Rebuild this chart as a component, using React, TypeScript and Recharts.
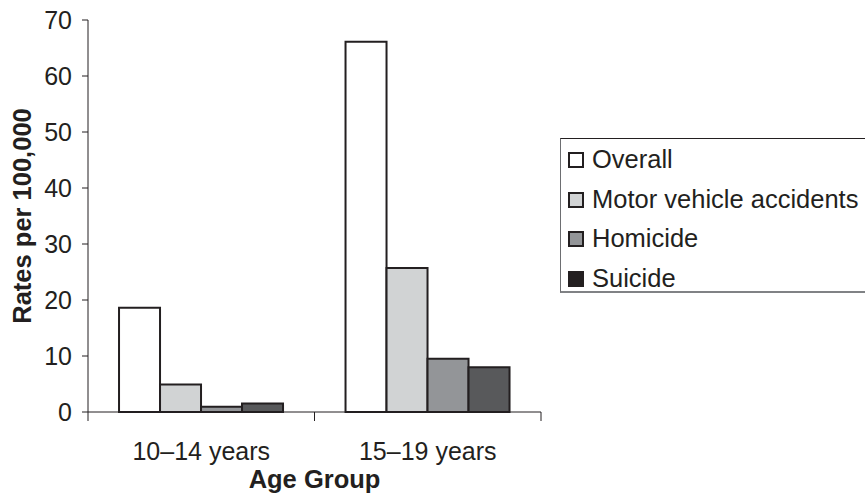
import { BarChart, Bar, XAxis, YAxis } from 'recharts';

const ageGroups = ['10–14 years', '15–19 years'];
const overall = [18.6, 66.1];
const motorVehicle = [4.9, 25.7];
const homicide = [0.95, 9.5];
const suicide = [1.5, 8.0];
const yTicks = [0, 10, 20, 30, 40, 50, 60, 70];

const series = [
  { key: 'overall', name: 'Overall', fill: '#ffffff', swatch: '#ffffff' },
  { key: 'motor', name: 'Motor vehicle accidents', fill: '#d1d3d4', swatch: '#d1d3d4' },
  { key: 'homicide', name: 'Homicide', fill: '#939598', swatch: '#939598' },
  { key: 'suicide', name: 'Suicide', fill: '#58595b', swatch: '#231f20' },
];

const data = ageGroups.map((group, i) => ({
  group,
  overall: overall[i],
  motor: motorVehicle[i],
  homicide: homicide[i],
  suicide: suicide[i],
}));

const ink = '#231f20';
const font = '"Liberation Sans", Arial, Helvetica, sans-serif';
const X_TICK_SIZE = 6;
const X_TICK_MARGIN = 24;

// category label plus tick marks on the band edges (Excel style)
function BandTick(props: any) {
  const { x, y, payload } = props;
  const half = payload.offset ?? 0;
  const axisY = y - X_TICK_SIZE - X_TICK_MARGIN;
  return (
    <g>
      <line x1={x - half} x2={x - half} y1={axisY} y2={axisY + 9} stroke={ink} strokeWidth={1} />
      <line x1={x + half} x2={x + half} y1={axisY} y2={axisY + 9} stroke={ink} strokeWidth={1} />
      <text x={x} y={y} dy="0.71em" textAnchor="middle" fill={ink} fontSize={25} fontFamily={font}>
        {payload.value}
      </text>
    </g>
  );
}

export default function App() {
  return (
    <div style={{ position: 'relative', width: 865, height: 494, overflow: 'hidden', background: '#fff', fontFamily: font }}>
      <style>{'body{margin:0}'}</style>
      <BarChart
        width={865}
        height={494}
        data={data}
        margin={{ top: 20, right: 324, left: 0, bottom: 0 }}
        barCategoryGap="13.7%"
        barGap={0}
      >
        <XAxis
          dataKey="group"
          tickLine={false}
          tickSize={X_TICK_SIZE}
          tickMargin={X_TICK_MARGIN}
          axisLine={{ stroke: ink, strokeWidth: 1 }}
          height={82}
          tick={BandTick}
          label={{ value: 'Age Group', position: 'insideBottom', offset: 6, fill: ink, fontSize: 25.5, fontWeight: 'bold', fontFamily: font }}
        />
        <YAxis
          domain={[0, 70]}
          ticks={yTicks}
          width={88}
          tickSize={6}
          tickMargin={10}
          axisLine={{ stroke: ink, strokeWidth: 1 }}
          tickLine={{ stroke: ink, strokeWidth: 1 }}
          tick={{ fill: ink, fontSize: 25, fontFamily: font }}
          label={{ value: 'Rates per 100,000', angle: -90, position: 'center', dx: -22, fill: ink, fontSize: 25.5, fontWeight: 'bold', fontFamily: font }}
        />
        {series.map((s) => (
          <Bar
            key={s.key}
            dataKey={s.key}
            name={s.name}
            fill={s.fill}
            stroke={ink}
            strokeWidth={2}
            isAnimationActive={false}
          />
        ))}
      </BarChart>
      <div
        style={{
          position: 'absolute',
          left: 560,
          top: 138,
          width: 320,
          height: 155,
          borderTop: '1px solid #231f20',
          borderLeft: '1px solid #6d6e71',
          borderBottom: '2px solid #808285',
          boxSizing: 'border-box',
          paddingTop: 1,
        }}
      >
        {series.map((s) => (
          <div key={s.key} style={{ display: 'flex', alignItems: 'center', height: 39.7, paddingLeft: 7 }}>
            <span
              style={{
                display: 'inline-block',
                width: 16,
                height: 16,
                boxSizing: 'border-box',
                background: s.swatch,
                border: `2px solid ${ink}`,
                marginRight: 8,
              }}
            />
            <span style={{ fontSize: 25.5, color: ink, lineHeight: 1, whiteSpace: 'nowrap' }}>{s.name}</span>
          </div>
        ))}
      </div>
    </div>
  );
}
